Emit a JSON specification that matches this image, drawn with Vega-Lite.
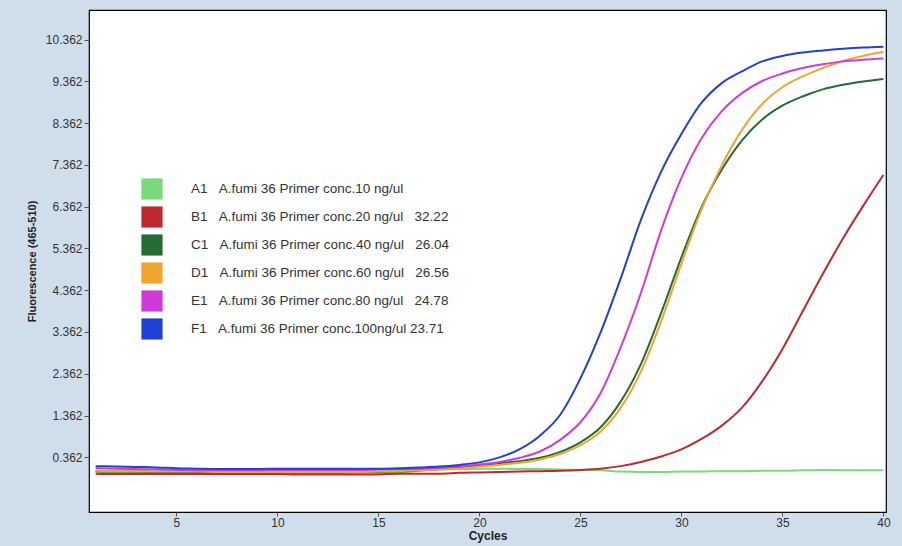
{
  "$schema": "https://vega.github.io/schema/vega-lite/v6.json",
  "width": 797,
  "height": 502,
  "autosize": {"type": "none"},
  "padding": {"left": 89, "top": 10, "right": 16, "bottom": 34},
  "background": "#d0deeb",
  "config": {
    "view": {"fill": "#ffffff", "stroke": "#000000", "strokeWidth": 1.2},
    "axis": {"grid": false, "labelFont": "Liberation Sans", "titleFont": "Liberation Sans", "labelColor": "#333333", "tickColor": "#555555", "domain": false}
  },
  "data": {"values": [
    {"c":1,"w":"A1","f":0.02},{"c":2,"w":"A1","f":0.01},{"c":3,"w":"A1","f":0.01},{"c":4,"w":"A1","f":0.0},{"c":5,"w":"A1","f":0.0},{"c":6,"w":"A1","f":-0.01},{"c":7,"w":"A1","f":-0.01},{"c":8,"w":"A1","f":-0.01},{"c":9,"w":"A1","f":-0.01},{"c":10,"w":"A1","f":-0.01},{"c":11,"w":"A1","f":-0.02},{"c":12,"w":"A1","f":-0.02},{"c":13,"w":"A1","f":-0.03},{"c":14,"w":"A1","f":-0.03},{"c":15,"w":"A1","f":-0.03},{"c":16,"w":"A1","f":-0.01},{"c":17,"w":"A1","f":0.04},{"c":18,"w":"A1","f":0.07},{"c":19,"w":"A1","f":0.08},{"c":20,"w":"A1","f":0.09},{"c":21,"w":"A1","f":0.09},{"c":22,"w":"A1","f":0.08},{"c":23,"w":"A1","f":0.08},{"c":24,"w":"A1","f":0.07},{"c":25,"w":"A1","f":0.06},{"c":26,"w":"A1","f":0.05},{"c":27,"w":"A1","f":0.02},{"c":28,"w":"A1","f":0.01},{"c":29,"w":"A1","f":0.01},{"c":30,"w":"A1","f":0.02},{"c":31,"w":"A1","f":0.02},{"c":32,"w":"A1","f":0.03},{"c":33,"w":"A1","f":0.03},{"c":34,"w":"A1","f":0.04},{"c":35,"w":"A1","f":0.04},{"c":36,"w":"A1","f":0.05},{"c":37,"w":"A1","f":0.06},{"c":38,"w":"A1","f":0.05},{"c":39,"w":"A1","f":0.05},{"c":40,"w":"A1","f":0.05},
    {"c":1,"w":"B1","f":-0.03},{"c":2,"w":"B1","f":-0.04},{"c":3,"w":"B1","f":-0.04},{"c":4,"w":"B1","f":-0.04},{"c":5,"w":"B1","f":-0.04},{"c":6,"w":"B1","f":-0.04},{"c":7,"w":"B1","f":-0.04},{"c":8,"w":"B1","f":-0.04},{"c":9,"w":"B1","f":-0.04},{"c":10,"w":"B1","f":-0.04},{"c":11,"w":"B1","f":-0.05},{"c":12,"w":"B1","f":-0.05},{"c":13,"w":"B1","f":-0.05},{"c":14,"w":"B1","f":-0.05},{"c":15,"w":"B1","f":-0.05},{"c":16,"w":"B1","f":-0.03},{"c":17,"w":"B1","f":-0.03},{"c":18,"w":"B1","f":-0.03},{"c":19,"w":"B1","f":-0.01},{"c":20,"w":"B1","f":0.0},{"c":21,"w":"B1","f":0.01},{"c":22,"w":"B1","f":0.02},{"c":23,"w":"B1","f":0.03},{"c":24,"w":"B1","f":0.04},{"c":25,"w":"B1","f":0.06},{"c":26,"w":"B1","f":0.09},{"c":27,"w":"B1","f":0.15},{"c":28,"w":"B1","f":0.25},{"c":29,"w":"B1","f":0.38},{"c":30,"w":"B1","f":0.55},{"c":31,"w":"B1","f":0.8},{"c":32,"w":"B1","f":1.12},{"c":33,"w":"B1","f":1.55},{"c":34,"w":"B1","f":2.18},{"c":35,"w":"B1","f":2.95},{"c":36,"w":"B1","f":3.85},{"c":37,"w":"B1","f":4.75},{"c":38,"w":"B1","f":5.6},{"c":39,"w":"B1","f":6.38},{"c":40,"w":"B1","f":7.12},
    {"c":1,"w":"C1","f":0.03},{"c":2,"w":"C1","f":0.02},{"c":3,"w":"C1","f":0.02},{"c":4,"w":"C1","f":0.01},{"c":5,"w":"C1","f":0.01},{"c":6,"w":"C1","f":0.01},{"c":7,"w":"C1","f":0.0},{"c":8,"w":"C1","f":0.0},{"c":9,"w":"C1","f":0.0},{"c":10,"w":"C1","f":0.0},{"c":11,"w":"C1","f":0.0},{"c":12,"w":"C1","f":0.0},{"c":13,"w":"C1","f":0.0},{"c":14,"w":"C1","f":0.01},{"c":15,"w":"C1","f":0.01},{"c":16,"w":"C1","f":0.02},{"c":17,"w":"C1","f":0.05},{"c":18,"w":"C1","f":0.08},{"c":19,"w":"C1","f":0.12},{"c":20,"w":"C1","f":0.17},{"c":21,"w":"C1","f":0.22},{"c":22,"w":"C1","f":0.27},{"c":23,"w":"C1","f":0.35},{"c":24,"w":"C1","f":0.49},{"c":25,"w":"C1","f":0.72},{"c":26,"w":"C1","f":1.08},{"c":27,"w":"C1","f":1.7},{"c":28,"w":"C1","f":2.6},{"c":29,"w":"C1","f":3.82},{"c":30,"w":"C1","f":5.15},{"c":31,"w":"C1","f":6.35},{"c":32,"w":"C1","f":7.25},{"c":33,"w":"C1","f":7.95},{"c":34,"w":"C1","f":8.45},{"c":35,"w":"C1","f":8.78},{"c":36,"w":"C1","f":9.0},{"c":37,"w":"C1","f":9.17},{"c":38,"w":"C1","f":9.28},{"c":39,"w":"C1","f":9.36},{"c":40,"w":"C1","f":9.42},
    {"c":1,"w":"D1","f":0.04},{"c":2,"w":"D1","f":0.03},{"c":3,"w":"D1","f":0.03},{"c":4,"w":"D1","f":0.02},{"c":5,"w":"D1","f":0.02},{"c":6,"w":"D1","f":0.02},{"c":7,"w":"D1","f":0.01},{"c":8,"w":"D1","f":0.01},{"c":9,"w":"D1","f":0.01},{"c":10,"w":"D1","f":0.01},{"c":11,"w":"D1","f":0.01},{"c":12,"w":"D1","f":0.01},{"c":13,"w":"D1","f":0.01},{"c":14,"w":"D1","f":0.01},{"c":15,"w":"D1","f":0.02},{"c":16,"w":"D1","f":0.03},{"c":17,"w":"D1","f":0.05},{"c":18,"w":"D1","f":0.07},{"c":19,"w":"D1","f":0.1},{"c":20,"w":"D1","f":0.14},{"c":21,"w":"D1","f":0.18},{"c":22,"w":"D1","f":0.23},{"c":23,"w":"D1","f":0.31},{"c":24,"w":"D1","f":0.44},{"c":25,"w":"D1","f":0.65},{"c":26,"w":"D1","f":0.98},{"c":27,"w":"D1","f":1.55},{"c":28,"w":"D1","f":2.42},{"c":29,"w":"D1","f":3.62},{"c":30,"w":"D1","f":5.0},{"c":31,"w":"D1","f":6.3},{"c":32,"w":"D1","f":7.35},{"c":33,"w":"D1","f":8.2},{"c":34,"w":"D1","f":8.82},{"c":35,"w":"D1","f":9.22},{"c":36,"w":"D1","f":9.48},{"c":37,"w":"D1","f":9.68},{"c":38,"w":"D1","f":9.85},{"c":39,"w":"D1","f":9.97},{"c":40,"w":"D1","f":10.07},
    {"c":1,"w":"E1","f":0.1},{"c":2,"w":"E1","f":0.09},{"c":3,"w":"E1","f":0.08},{"c":4,"w":"E1","f":0.07},{"c":5,"w":"E1","f":0.06},{"c":6,"w":"E1","f":0.05},{"c":7,"w":"E1","f":0.05},{"c":8,"w":"E1","f":0.05},{"c":9,"w":"E1","f":0.05},{"c":10,"w":"E1","f":0.06},{"c":11,"w":"E1","f":0.06},{"c":12,"w":"E1","f":0.06},{"c":13,"w":"E1","f":0.06},{"c":14,"w":"E1","f":0.06},{"c":15,"w":"E1","f":0.07},{"c":16,"w":"E1","f":0.08},{"c":17,"w":"E1","f":0.09},{"c":18,"w":"E1","f":0.11},{"c":19,"w":"E1","f":0.14},{"c":20,"w":"E1","f":0.19},{"c":21,"w":"E1","f":0.25},{"c":22,"w":"E1","f":0.35},{"c":23,"w":"E1","f":0.5},{"c":24,"w":"E1","f":0.78},{"c":25,"w":"E1","f":1.2},{"c":26,"w":"E1","f":1.9},{"c":27,"w":"E1","f":3.0},{"c":28,"w":"E1","f":4.3},{"c":29,"w":"E1","f":5.8},{"c":30,"w":"E1","f":7.05},{"c":31,"w":"E1","f":8.0},{"c":32,"w":"E1","f":8.65},{"c":33,"w":"E1","f":9.08},{"c":34,"w":"E1","f":9.37},{"c":35,"w":"E1","f":9.55},{"c":36,"w":"E1","f":9.68},{"c":37,"w":"E1","f":9.77},{"c":38,"w":"E1","f":9.84},{"c":39,"w":"E1","f":9.88},{"c":40,"w":"E1","f":9.91},
    {"c":1,"w":"F1","f":0.15},{"c":2,"w":"F1","f":0.14},{"c":3,"w":"F1","f":0.13},{"c":4,"w":"F1","f":0.12},{"c":5,"w":"F1","f":0.1},{"c":6,"w":"F1","f":0.09},{"c":7,"w":"F1","f":0.08},{"c":8,"w":"F1","f":0.08},{"c":9,"w":"F1","f":0.08},{"c":10,"w":"F1","f":0.09},{"c":11,"w":"F1","f":0.09},{"c":12,"w":"F1","f":0.09},{"c":13,"w":"F1","f":0.09},{"c":14,"w":"F1","f":0.09},{"c":15,"w":"F1","f":0.09},{"c":16,"w":"F1","f":0.1},{"c":17,"w":"F1","f":0.12},{"c":18,"w":"F1","f":0.14},{"c":19,"w":"F1","f":0.18},{"c":20,"w":"F1","f":0.24},{"c":21,"w":"F1","f":0.36},{"c":22,"w":"F1","f":0.56},{"c":23,"w":"F1","f":0.88},{"c":24,"w":"F1","f":1.38},{"c":25,"w":"F1","f":2.25},{"c":26,"w":"F1","f":3.35},{"c":27,"w":"F1","f":4.65},{"c":28,"w":"F1","f":6.05},{"c":29,"w":"F1","f":7.2},{"c":30,"w":"F1","f":8.1},{"c":31,"w":"F1","f":8.85},{"c":32,"w":"F1","f":9.32},{"c":33,"w":"F1","f":9.6},{"c":34,"w":"F1","f":9.84},{"c":35,"w":"F1","f":9.97},{"c":36,"w":"F1","f":10.05},{"c":37,"w":"F1","f":10.1},{"c":38,"w":"F1","f":10.14},{"c":39,"w":"F1","f":10.17},{"c":40,"w":"F1","f":10.19}
  ]},
  "mark": {"type": "line", "strokeWidth": 2, "interpolate": "monotone", "clip": true},
  "encoding": {
    "x": {
      "field": "c", "type": "quantitative",
      "scale": {"domain": [0.67, 40.13], "nice": false, "zero": false},
      "axis": {"values": [5, 10, 15, 20, 25, 30, 35, 40], "tickSize": 4, "labelFontSize": 12, "labelPadding": 1, "title": "Cycles", "titleFontSize": 12, "titleFontWeight": "bold", "titleColor": "#222222", "titlePadding": 2}
    },
    "y": {
      "field": "f", "type": "quantitative",
      "scale": {"domain": [-0.948, 11.07], "nice": false, "zero": false},
      "axis": {"values": [0.362, 1.362, 2.362, 3.362, 4.362, 5.362, 6.362, 7.362, 8.362, 9.362, 10.362], "format": ".3f", "tickSize": 5, "labelFontSize": 12, "labelPadding": 2, "title": "Fluorescence (465-510)", "titleFontSize": 11, "titleFontWeight": "bold", "titleColor": "#222222", "titlePadding": 8}
    },
    "color": {
      "field": "w", "type": "nominal",
      "scale": {"domain": ["A1", "B1", "C1", "D1", "E1", "F1"], "range": ["#7ad97a", "#c0282f", "#256b33", "#f0a52e", "#d03ad8", "#2040d8"]},
      "legend": {
        "orient": "none", "legendX": 52, "legendY": 168, "title": null,
        "symbolType": "square", "symbolSize": 420, "symbolStrokeWidth": 0, "symbolOpacity": 1,
        "labelFont": "Liberation Sans", "labelFontSize": 13.5, "labelColor": "#333333",
        "labelOffset": 28, "rowPadding": 4, "labelLimit": 400,
        "encode": {"symbols": {"update": {"fill": {"scale": "color", "field": "value"}, "fillOpacity": {"value": 1}, "stroke": {"value": "#bbbbbb"}, "strokeWidth": {"value": 0.6}}}},
        "labelExpr": "{'A1': 'A1\u00a0\u00a0\u00a0A.fumi 36 Primer conc.10 ng/ul', 'B1': 'B1\u00a0\u00a0\u00a0A.fumi 36 Primer conc.20 ng/ul\u00a0\u00a0\u00a032.22', 'C1': 'C1\u00a0\u00a0\u00a0A.fumi 36 Primer conc.40 ng/ul\u00a0\u00a0\u00a026.04', 'D1': 'D1\u00a0\u00a0\u00a0A.fumi 36 Primer conc.60 ng/ul\u00a0\u00a0\u00a026.56', 'E1': 'E1\u00a0\u00a0\u00a0A.fumi 36 Primer conc.80 ng/ul\u00a0\u00a0\u00a024.78', 'F1': 'F1\u00a0\u00a0\u00a0A.fumi 36 Primer conc.100ng/ul\u00a023.71'}[datum.label]"
      }
    }
  }
}
